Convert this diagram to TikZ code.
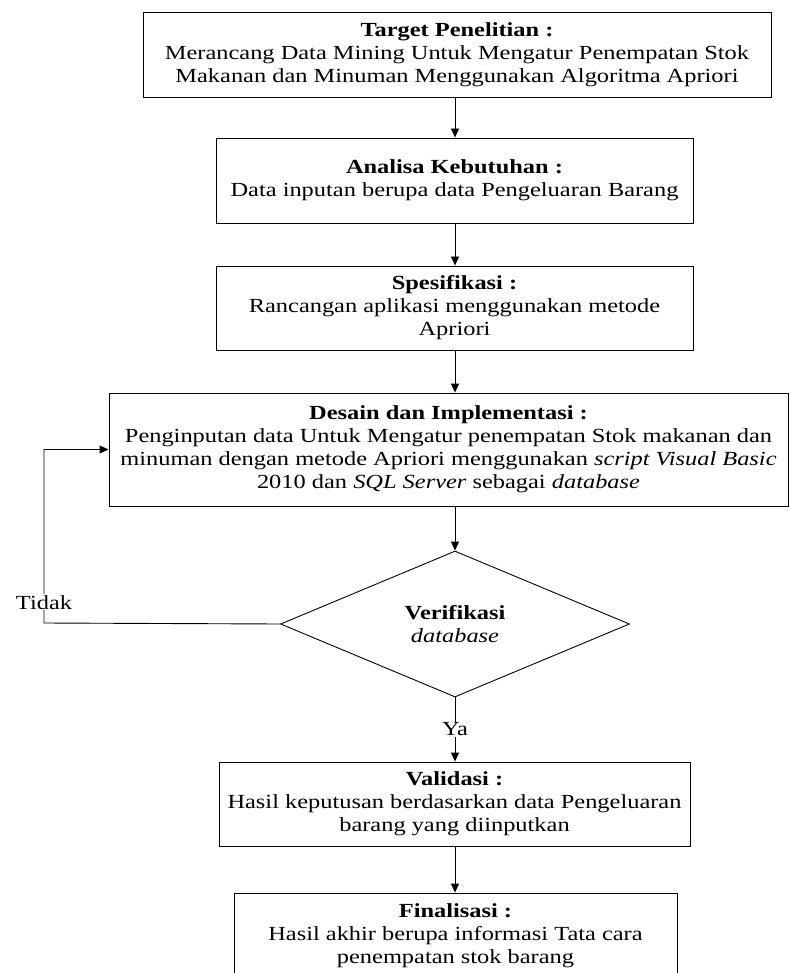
\documentclass[tikz,border=0pt]{standalone}
\usepackage{fontspec}
\setmainfont{Liberation Serif}[
  BoldFont = {Liberation Serif Bold},
  ItalicFont = {Liberation Serif Italic},
  BoldItalicFont = {Liberation Serif Bold Italic},
  FakeStretch=1.22]
\usetikzlibrary{shapes.geometric,arrows.meta}
\begin{document}
\begin{tikzpicture}[x=1pt,y=-1pt,
  every node/.style={font=\fontsize{20}{23}\selectfont},
  stepbox/.style={draw,line width=0.9pt,align=center,inner sep=0pt},
  decide/.style={draw,line width=0.9pt,diamond,align=center,inner sep=0pt,aspect=2.39},
  conn/.style={line width=0.9pt,-{Triangle[length=9pt,width=8pt]}},
  lbl/.style={fill=white,inner sep=1pt}]
\useasboundingbox (0,0) rectangle (789,973);
\clip (0,0) rectangle (789,973);
\node[stepbox,minimum width=628pt,minimum height=85pt] (target) at (457,54.5)
  {\textbf{Target Penelitian :}\\Merancang Data Mining Untuk Mengatur Penempatan Stok\\Makanan dan Minuman Menggunakan Algoritma Apriori};
\node[stepbox,minimum width=477pt,minimum height=85pt] (analisa) at (454.5,180.5)
  {\textbf{Analisa Kebutuhan :}\\Data inputan berupa data Pengeluaran Barang};
\node[stepbox,minimum width=477pt,minimum height=84pt] (spes) at (454.5,308)
  {\textbf{Spesifikasi :}\\Rancangan aplikasi menggunakan metode\\Apriori};
\node[stepbox,minimum width=679pt,minimum height=113pt] (desain) at (448.5,449.5)
  {\textbf{Desain dan Implementasi :}\\Penginputan data Untuk Mengatur penempatan Stok makanan dan\\minuman dengan metode Apriori menggunakan \textit{script Visual Basic}\\2010 dan \textit{SQL Server} sebagai \textit{database}};
\node[decide,minimum width=349pt,minimum height=146pt] (verif) at (455,624)
  {\textbf{Verifikasi}\\\textit{database}};
\node[stepbox,minimum width=471pt,minimum height=84pt] (valid) at (454.5,804)
  {\textbf{Validasi :}\\Hasil keputusan berdasarkan data Pengeluaran\\barang yang diinputkan};
\node[stepbox,minimum width=443pt,minimum height=86pt] (final) at (455.5,936)
  {\textbf{Finalisasi :}\\Hasil akhir berupa informasi Tata cara\\penempatan stok barang};
\coordinate (lb) at (44,623);
\coordinate (lt) at (44,449.5);
\draw[conn] (target.south -| 455,0) -- (analisa.north -| 455,0);
\draw[conn] (analisa.south -| 455,0) -- (spes.north -| 455,0);
\draw[conn] (spes.south -| 455,0) -- (desain.north -| 455,0);
\draw[conn] (desain.south -| 455,0) -- (verif.north);
\draw[conn] (verif.south) -- node[lbl,pos=0.5] (ya) {Ya} (valid.north -| 455,0);
\draw[conn] (valid.south -| 455,0) -- (final.north -| 455,0);
\draw[conn] (verif.west) -- (lb) -- node[lbl,pos=0.12] (tidak) {Tidak} (lt) -- (desain.west);
\end{tikzpicture}
\end{document}
